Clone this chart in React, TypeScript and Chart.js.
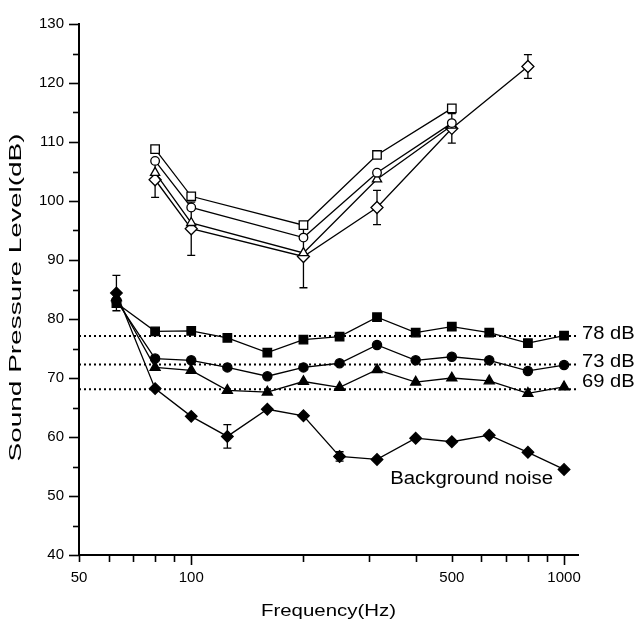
import React, { useEffect, useRef } from "react";
import { Chart, registerables } from "chart.js";

Chart.register(...registerables);

// Lower group: 1/3-octave band levels (filled markers)
const freqLow = [63, 80, 100, 125, 160, 200, 250, 315, 400, 500, 630, 800, 1000];
const level78 = [82.7, 77.9, 78.0, 76.8, 74.3, 76.5, 77.0, 80.3, 77.7, 78.7, 77.7, 75.9, 77.2];
const level73 = [83.1, 73.3, 73.0, 71.8, 70.3, 71.8, 72.5, 75.6, 73.0, 73.6, 73.0, 71.2, 72.2];
const level69 = [83.6, 71.8, 71.3, 67.9, 67.6, 69.4, 68.4, 71.4, 69.3, 70.0, 69.5, 67.4, 68.5];
const background = [84.4, 68.2, 63.5, 60.1, 64.7, 63.6, 56.7, 56.2, 59.8, 59.2, 60.3, 57.4, 54.5];
const backgroundErr = [3.0, 0, 0, 2.0, 0, 0, 0.8, 0, 0, 0, 0, 0, 0];

// Upper group (open markers)
const freqHigh = [80, 100, 200, 315, 500];
const openSquare = [108.8, 100.8, 95.9, 107.8, 115.7];
const openCircle = [106.8, 98.9, 93.8, 104.8, 113.2];
const openTriangle = [104.8, 96.3, 91.2, 103.7, 112.8];
const freqDiamond = [80, 100, 200, 315, 500, 800];
const openDiamond = [103.6, 95.3, 90.6, 98.9, 112.3, 122.8];
const openDiamondErr = [3.0, 4.5, 5.3, 2.9, 2.5, 2.0];

// Reference (dotted) levels and their labels
const refLevels = [77.1, 72.3, 68.1];
const refLabels = ["78 dB", "73 dB", "69 dB"];
const noiseLabel = "Background noise";

const xMin = 50;
const xMax = 1090;
const xLabelTicks = [50, 100, 500, 1000];
const xAllTicks = [50, 60, 70, 80, 90, 100, 200, 300, 400, 500, 600, 700, 800, 900, 1000];
const xLongTicks = [100, 1000];
const yMin = 40;
const yMax = 130;

const xTitle = "Frequency(Hz)";
const yTitle = "Sound Pressure Level(dB)";

const FONT = '"Liberation Sans", Arial, sans-serif';

function pts(xs: number[], ys: number[]) {
  return xs.map((x, i) => ({ x, y: ys[i] }));
}

function drawText(
  ctx: CanvasRenderingContext2D,
  text: string,
  x: number,
  y: number,
  font: string,
  opts: { scaleX?: number; length?: number; align?: "left" | "center" | "right"; rotate?: boolean }
) {
  ctx.save();
  ctx.font = font;
  ctx.fillStyle = "#000";
  ctx.textBaseline = "alphabetic";
  ctx.textAlign = "left";
  ctx.translate(x, y);
  if (opts.rotate) ctx.rotate(-Math.PI / 2);
  const natural = ctx.measureText(text).width;
  const sx = opts.length ? opts.length / natural : opts.scaleX || 1;
  const w = natural * sx;
  const align = opts.align || "left";
  const off = align === "left" ? 0 : align === "center" ? -w / 2 : -w;
  ctx.translate(off, 0);
  ctx.scale(sx, 1);
  ctx.fillText(text, 0, 0);
  ctx.restore();
}

const errorBarPlugin = {
  id: "errorBars",
  beforeDatasetsDraw(chart: any) {
    const { ctx, scales } = chart;
    const xs = scales.x;
    const ys = scales.y;
    ctx.save();
    ctx.strokeStyle = "#000";
    ctx.lineWidth = 1.3;
    chart.data.datasets.forEach((ds: any) => {
      if (!ds.errors) return;
      ds.data.forEach((p: any, i: number) => {
        const e = ds.errors[i];
        if (!e) return;
        const px = xs.getPixelForValue(p.x);
        const top = ys.getPixelForValue(p.y + e);
        const bot = ys.getPixelForValue(p.y - e);
        ctx.beginPath();
        ctx.moveTo(px, top);
        ctx.lineTo(px, bot);
        ctx.moveTo(px - 4, top);
        ctx.lineTo(px + 4, top);
        ctx.moveTo(px - 4, bot);
        ctx.lineTo(px + 4, bot);
        ctx.stroke();
      });
    });
    ctx.restore();
  },
};

// vertical nudges (px) of the reference-level labels relative to their lines
const refLabelNudge = [3, 3, -2];

const decorPlugin = {
  id: "decor",
  afterDraw(chart: any) {
    const { ctx, chartArea, scales } = chart;
    const xs = scales.x;
    const ys = scales.y;
    ctx.save();
    ctx.strokeStyle = "#000";
    ctx.lineWidth = 1.6;
    // y tick marks
    for (let v = yMin; v <= yMax; v += 5) {
      const py = Math.round(ys.getPixelForValue(v)) + 0.5;
      const len = v % 10 === 0 ? 10 : 6;
      ctx.beginPath();
      ctx.moveTo(chartArea.left - len, py);
      ctx.lineTo(chartArea.left, py);
      ctx.stroke();
    }
    // x tick marks
    xAllTicks.forEach((v) => {
      const px = Math.round(xs.getPixelForValue(v)) + 0.5;
      const len = xLongTicks.includes(v) ? 10 : 7;
      ctx.beginPath();
      ctx.moveTo(px, chartArea.bottom);
      ctx.lineTo(px, chartArea.bottom + len);
      ctx.stroke();
    });
    ctx.restore();

    // reference labels
    refLevels.forEach((lv, i) => {
      const base = ys.getPixelForValue(lv) + refLabelNudge[i];
      drawText(ctx, refLabels[i], chartArea.right + 4, base, `18px ${FONT}`, { scaleX: 1.12 });
    });
    // background noise label
    const lastX = xs.getPixelForValue(freqLow[freqLow.length - 1]);
    const lastY = ys.getPixelForValue(background[background.length - 1]);
    drawText(ctx, noiseLabel, lastX - 11, lastY + 15, `18px ${FONT}`, { scaleX: 1.13, align: "right" });

    // axis titles
    drawText(ctx, xTitle, (chartArea.left + chartArea.right) / 2, 616, `17px ${FONT}`, {
      length: 135,
      align: "center",
    });
    drawText(ctx, yTitle, 21, (chartArea.top + chartArea.bottom) / 2 + 8, `17px ${FONT}`, {
      length: 328,
      align: "center",
      rotate: true,
    });
  },
};

export default function App() {
  const ref = useRef<HTMLCanvasElement | null>(null);

  useEffect(() => {
    if (!ref.current) return;
    const line = { borderColor: "#000", borderWidth: 1.3, tension: 0, pointBorderColor: "#000", pointBorderWidth: 1.3 };
    const chart = new Chart(ref.current, {
      type: "line",
      data: {
        datasets: [
          ...refLevels.map((lv) => ({
            data: [
              { x: xMin, y: lv },
              { x: xMax, y: lv },
            ],
            borderColor: "#000",
            borderWidth: 2,
            borderDash: [2, 3],
            pointRadius: 0,
            order: 10,
          })),
          { ...line, data: pts(freqLow, level78), pointStyle: "rect", pointRadius: 6, pointBackgroundColor: "#000" },
          { ...line, data: pts(freqLow, level73), pointStyle: "circle", pointRadius: 4.6, pointBackgroundColor: "#000" },
          { ...line, data: pts(freqLow, level69), pointStyle: "triangle", pointRadius: 5.8, pointBackgroundColor: "#000" },
          {
            ...line,
            data: pts(freqLow, background),
            errors: backgroundErr,
            pointStyle: "rectRot",
            pointRadius: 5.8,
            pointBackgroundColor: "#000",
          },
          { ...line, data: pts(freqHigh, openSquare), pointStyle: "rect", pointRadius: 6, pointBackgroundColor: "#fff" },
          { ...line, data: pts(freqHigh, openCircle), pointStyle: "circle", pointRadius: 4.3, pointBackgroundColor: "#fff" },
          { ...line, data: pts(freqHigh, openTriangle), pointStyle: "triangle", pointRadius: 5.3, pointBackgroundColor: "#fff" },
          {
            ...line,
            data: pts(freqDiamond, openDiamond),
            errors: openDiamondErr,
            pointStyle: "rectRot",
            pointRadius: 6,
            pointBackgroundColor: "#fff",
          },
        ] as any,
      },
      options: {
        animation: false,
        responsive: false,
        maintainAspectRatio: false,
        layout: { padding: { top: 15, right: 57, left: 0, bottom: 0 } },
        plugins: { legend: { display: false }, tooltip: { enabled: false } },
        scales: {
          x: {
            type: "logarithmic",
            min: xMin,
            max: xMax,
            grid: { display: false, drawTicks: false },
            border: { display: true, color: "#000", width: 2 },
            ticks: {
              color: "#000",
              font: { family: FONT, size: 15 },
              padding: 14,
              maxRotation: 0,
              autoSkip: false,
              callback: (v: any) => String(v),
            },
            afterBuildTicks: (scale: any) => {
              scale.ticks = xLabelTicks.map((v) => ({ value: v }));
            },
            afterFit: (scale: any) => {
              scale.height = 69;
            },
          },
          y: {
            type: "linear",
            min: yMin,
            max: yMax,
            grid: { display: false, drawTicks: false },
            border: { display: true, color: "#000", width: 2 },
            ticks: {
              stepSize: 10,
              color: "#000",
              font: { family: FONT, size: 15 },
              padding: 15,
            },
            afterFit: (scale: any) => {
              scale.width = 79;
            },
          },
        },
      },
      plugins: [errorBarPlugin, decorPlugin],
    } as any);
    return () => chart.destroy();
  }, []);

  return (
    <div style={{ position: "absolute", left: 0, top: 0, width: 635, height: 624, background: "#fff" }}>
      <canvas ref={ref} width={635} height={624} style={{ display: "block" }} />
    </div>
  );
}
